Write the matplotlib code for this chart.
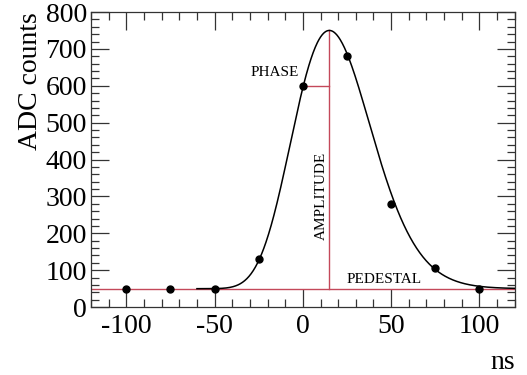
import numpy as np
import matplotlib
matplotlib.use("Agg")
import matplotlib.pyplot as plt
from matplotlib.ticker import MultipleLocator

# Data points (ns, ADC counts)
times = [-100, -75, -50, -25, 0, 25, 50, 75, 100]
counts = [50, 50, 48, 130, 600, 680, 280, 105, 50]

# Fit parameters
pedestal = 50
amplitude = 700
peak_time = 15
shape_n = 20
shape_tau = 100
fit_start = -60
phase_point = (0, 600)

def pulse(t):
    x = 1 + (t - peak_time) / shape_tau
    x = np.clip(x, 1e-9, None)
    return pedestal + amplitude * np.exp(shape_n * (np.log(x) - x + 1))

plt.rcParams['font.family'] = ['Liberation Serif', 'DejaVu Serif']
plt.rcParams['axes.unicode_minus'] = False

fig = plt.figure(figsize=(5.27, 3.75), dpi=100)
ax = fig.add_axes([0.1727, 0.181, 0.804, 0.787])

red = '#c4485a'
ax.axhline(pedestal, color=red, lw=1.0, zorder=2)
ax.plot([peak_time, peak_time], [pedestal, pedestal + amplitude], color=red, lw=1.0, zorder=2)
ax.plot([phase_point[0], peak_time], [phase_point[1], phase_point[1]], color=red, lw=1.0, zorder=2)

tt = np.linspace(fit_start, 120, 600)
ax.plot(tt, pulse(tt), color='black', lw=1.1, zorder=3)
ax.plot(times, counts, 'o', color='black', ms=5, zorder=4)

ax.text(-2, 637, 'PHASE', fontsize=11, ha='right', va='center')
ax.text(14, 301, 'AMPLITUDE', fontsize=11, ha='right', va='center', rotation=90)
ax.text(25, 76, 'PEDESTAL', fontsize=11, ha='left', va='center')

ax.set_xlim(-120, 120)
ax.set_ylim(0, 800)
ax.xaxis.set_major_locator(MultipleLocator(50))
ax.xaxis.set_minor_locator(MultipleLocator(10))
ax.yaxis.set_major_locator(MultipleLocator(100))
ax.yaxis.set_minor_locator(MultipleLocator(20))
ax.tick_params(which='both', direction='in', top=True, right=True, color='#333333', width=0.9)
ax.tick_params(which='major', length=13, labelsize=20)
ax.tick_params(which='minor', length=6)
ax.tick_params(axis='x', which='major', pad=5)
ax.tick_params(axis='y', which='major', pad=3)
for s in ax.spines.values():
    s.set_color('#333333')
    s.set_linewidth(0.9)

ax.set_ylabel('ADC counts', fontsize=20, loc='top', labelpad=2)
ax.set_xlabel('ns', fontsize=20, loc='right', labelpad=8)

fig.savefig('out.png', dpi=100)
